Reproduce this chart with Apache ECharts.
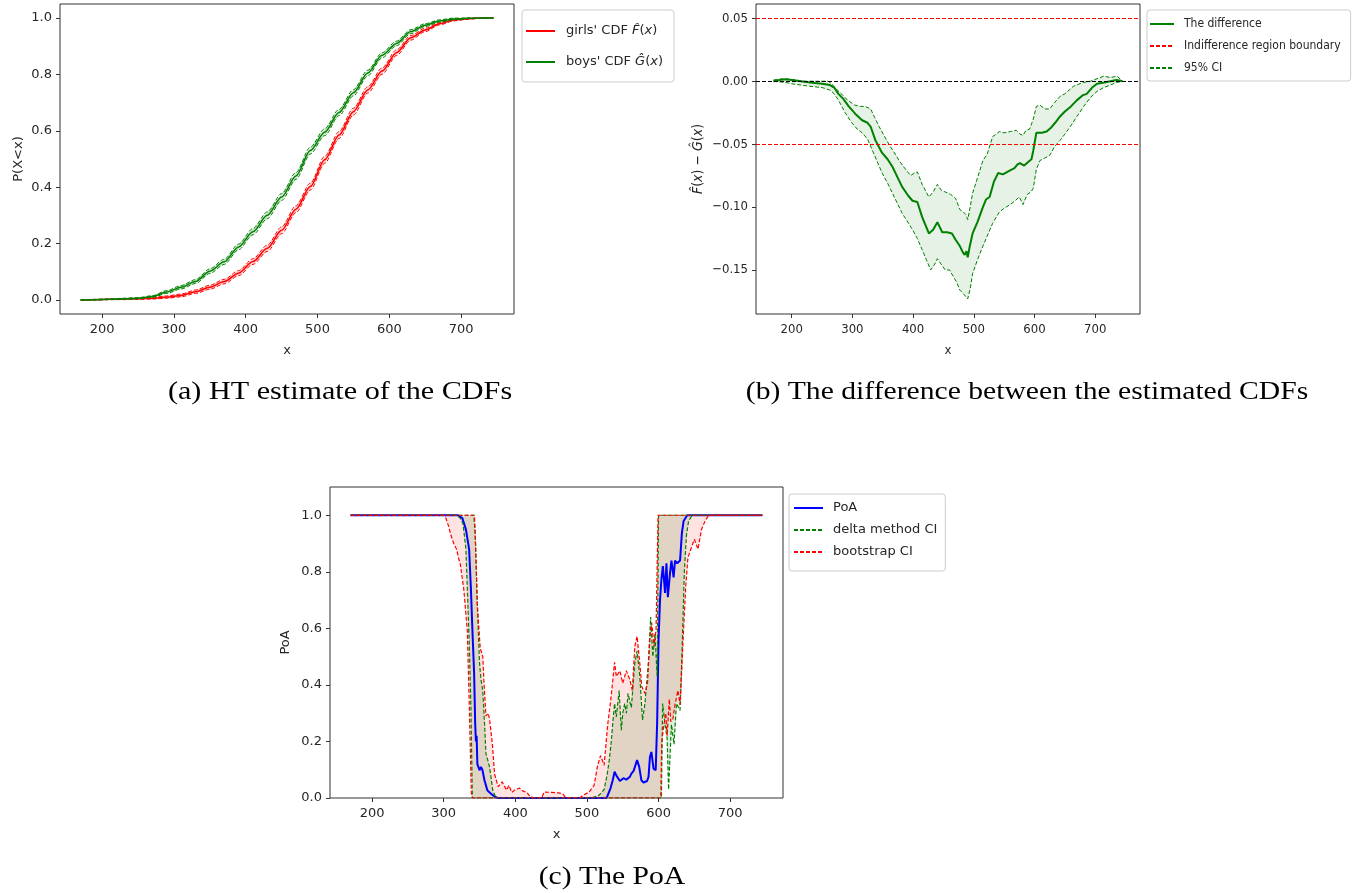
<!DOCTYPE html>
<html>
<head>
<meta charset="utf-8">
<script src="https://cdn.jsdelivr.net/npm/echarts@6/dist/echarts.min.js"></script>
<style>
  html, body { margin: 0; padding: 0; background: #fff; }
  #chart { width: 1367px; height: 893px; }
</style>
</head>
<body>
<div id="chart"></div>
<script>
// ---------- (a) HT estimates of the two CDFs ----------
const cdfX     = [170,190,210,230,250,270,290,310,330,350,370,390,410,430,450,470,490,510,530,550,570,590,610,630,650,670,690,710,730,745];
const girlsCdf = [0,0.001,0.002,0.003,0.004,0.006,0.010,0.016,0.029,0.045,0.065,0.095,0.136,0.183,0.247,0.322,0.402,0.497,0.585,0.668,0.745,0.812,0.877,0.930,0.958,0.980,0.993,0.998,1.0,1.0];
const girlsLo  = [0,0,0.001,0.001,0.002,0.003,0.006,0.011,0.023,0.038,0.057,0.086,0.126,0.172,0.235,0.310,0.390,0.485,0.573,0.656,0.734,0.801,0.867,0.922,0.952,0.976,0.990,0.996,0.999,1.0];
const girlsHi  = [0,0.002,0.003,0.005,0.006,0.009,0.014,0.021,0.035,0.052,0.073,0.104,0.146,0.194,0.259,0.334,0.414,0.509,0.597,0.680,0.756,0.823,0.887,0.938,0.964,0.984,0.996,1.0,1.0,1.0];
const boysCdf  = [0,0.001,0.002,0.004,0.006,0.012,0.028,0.045,0.065,0.102,0.135,0.188,0.242,0.300,0.365,0.440,0.530,0.595,0.665,0.735,0.805,0.868,0.910,0.952,0.975,0.990,0.997,0.999,1.0,1.0];
const boysLo   = [0,0,0.001,0.002,0.004,0.009,0.023,0.039,0.058,0.094,0.126,0.178,0.231,0.288,0.353,0.428,0.518,0.583,0.654,0.724,0.795,0.859,0.902,0.945,0.970,0.986,0.994,0.998,0.999,1.0];
const boysHi   = [0,0.002,0.003,0.006,0.008,0.015,0.033,0.051,0.072,0.110,0.144,0.198,0.253,0.312,0.377,0.452,0.542,0.607,0.676,0.746,0.815,0.877,0.918,0.959,0.980,0.994,1.0,1.0,1.0,1.0];

// ---------- (b) difference of the CDFs with its 95% CI ----------
const diffMain = [[170,0.000],[180,0.001],[190,0.0015],[200,0.001],[215,0.000],[230,-0.001],[250,-0.002],[263,-0.003],[270,-0.005],[277,-0.010],[285,-0.014],[294,-0.020],[305,-0.026],[316,-0.031],[325,-0.033],[330,-0.036],[338,-0.047],[349,-0.057],[358,-0.062],[366,-0.068],[375,-0.077],[382,-0.084],[392,-0.091],[399,-0.095],[407,-0.096],[415,-0.108],[426,-0.121],[433,-0.118],[440,-0.112],[448,-0.120],[456,-0.120],[464,-0.121],[470,-0.126],[477,-0.131],[482,-0.136],[485,-0.138],[488,-0.135],[490,-0.140],[493,-0.132],[498,-0.121],[506,-0.112],[515,-0.100],[520,-0.094],[526,-0.092],[533,-0.080],[540,-0.073],[548,-0.074],[559,-0.071],[567,-0.069],[572,-0.066],[576,-0.065],[583,-0.067],[590,-0.064],[595,-0.062],[598,-0.055],[603,-0.041],[612,-0.041],[620,-0.040],[627,-0.037],[634,-0.033],[642,-0.028],[650,-0.024],[660,-0.020],[670,-0.015],[680,-0.011],[686,-0.010],[695,-0.005],[703,-0.002],[715,-0.001],[725,0.000],[735,0.001],[745,0.000]];
const diffUpper = [[170,0.001],[185,0.002],[200,0.0015],[220,0.000],[245,0.000],[260,0.000],[266,-0.002],[275,-0.007],[282,-0.010],[292,-0.015],[304,-0.019],[313,-0.020],[321,-0.020],[330,-0.022],[337,-0.029],[344,-0.036],[352,-0.043],[360,-0.050],[368,-0.056],[377,-0.063],[386,-0.069],[396,-0.075],[402,-0.073],[407,-0.072],[415,-0.082],[426,-0.092],[433,-0.088],[440,-0.082],[447,-0.087],[453,-0.088],[462,-0.090],[470,-0.093],[477,-0.102],[483,-0.104],[487,-0.106],[490,-0.110],[494,-0.100],[498,-0.089],[506,-0.077],[515,-0.063],[522,-0.058],[531,-0.044],[537,-0.042],[542,-0.040],[550,-0.041],[560,-0.040],[570,-0.039],[576,-0.042],[581,-0.043],[586,-0.039],[592,-0.038],[598,-0.030],[603,-0.020],[609,-0.019],[617,-0.022],[625,-0.022],[633,-0.017],[642,-0.012],[650,-0.010],[664,-0.004],[680,-0.001],[692,0.000],[703,0.002],[714,0.004],[725,0.003],[736,0.004],[745,0.000]];
const diffLower = [[170,0.000],[190,-0.001],[200,-0.002],[215,-0.003],[230,-0.004],[250,-0.005],[263,-0.007],[270,-0.010],[277,-0.015],[288,-0.025],[299,-0.033],[308,-0.038],[316,-0.041],[325,-0.046],[333,-0.055],[341,-0.064],[349,-0.073],[358,-0.081],[366,-0.089],[374,-0.097],[382,-0.105],[390,-0.111],[399,-0.118],[407,-0.125],[415,-0.134],[422,-0.142],[429,-0.150],[435,-0.146],[440,-0.141],[447,-0.146],[453,-0.150],[460,-0.150],[466,-0.155],[472,-0.160],[477,-0.166],[483,-0.169],[490,-0.173],[494,-0.165],[498,-0.153],[506,-0.142],[515,-0.131],[523,-0.122],[531,-0.113],[537,-0.108],[542,-0.104],[550,-0.101],[560,-0.098],[568,-0.095],[575,-0.092],[581,-0.098],[588,-0.090],[594,-0.088],[598,-0.085],[603,-0.070],[609,-0.063],[617,-0.061],[625,-0.059],[633,-0.052],[642,-0.047],[650,-0.042],[659,-0.036],[670,-0.028],[681,-0.020],[692,-0.013],[703,-0.008],[714,-0.005],[725,-0.003],[735,-0.001],[745,0.000]];
const indifferenceBounds = [-0.05, 0.05];
const zeroLevel = 0;

// ---------- (c) probability of agreement with two CIs ----------
const poa = [[170,1],[320,1],[326,0.99],[331,0.95],[335.5,0.88],[338,0.74],[340,0.60],[342.5,0.44],[344,0.26],[345,0.20],[346,0.22],[347,0.12],[350,0.098],[352,0.11],[354,0.10],[357,0.062],[361,0.027],[366,0.015],[371,0.005],[376,0],[527,0],[529,0.009],[533,0.035],[536,0.063],[538.6,0.093],[541,0.08],[543,0.075],[546,0.06],[548,0.063],[551,0.07],[553,0.075],[555,0.065],[557,0.069],[560,0.075],[562,0.086],[565,0.095],[567,0.11],[570,0.134],[573,0.11],[576,0.063],[579,0.055],[581,0.051],[584,0.06],[586,0.075],[588,0.146],[590,0.163],[593,0.104],[596,0.098],[598,0.264],[600,0.56],[602,0.70],[604,0.773],[606,0.82],[608,0.76],[609,0.725],[611,0.83],[613,0.71],[616,0.796],[618,0.84],[621,0.78],[623,0.84],[626,0.83],[630,0.84],[632.6,0.938],[635,0.98],[640,1.0],[745,1.0]];
const deltaLower = [[170,1],[318,1],[323,0.99],[327,0.97],[331,0.88],[333,0.74],[335.5,0.56],[338,0.32],[340,0],[604,0],[605.7,0.334],[609,0.26],[612,0.21],[614,0.03],[615,0.09],[618,0.26],[621.6,0.19],[625,0.334],[630,0.31],[632.6,0.50],[636,0.80],[639,0.93],[642,0.98],[647,1.0],[745,1.0]];
const deltaUpper = [[170,1],[342,1],[344,0.94],[345,0.855],[347,0.68],[350,0.48],[352,0.42],[354.6,0.38],[357,0.264],[359,0.157],[362,0.13],[364,0.11],[366,0.075],[368.5,0.028],[373,0],[505,0],[512,0.005],[517,0.01],[524,0.03],[528,0.08],[531,0.13],[534,0.2],[536,0.264],[538.6,0.334],[541,0.287],[545,0.38],[548,0.24],[550,0.30],[552.7,0.334],[555,0.30],[557.4,0.37],[560,0.34],[562,0.32],[566.8,0.476],[570,0.52],[573.8,0.43],[577.6,0.276],[581,0.334],[585.7,0.476],[589,0.64],[592,0.50],[595,0.58],[598,0.43],[600,1.0],[745,1.0]];
const bootLower = [[170,1],[300,1],[303,0.99],[307,0.96],[310,0.93],[314,0.90],[318,0.88],[321,0.846],[323,0.83],[328,0.74],[333,0.59],[336,0.30],[338.5,0.02],[340,0],[603,0],[604.5,0.2],[607,0.25],[610,0.3],[612,0.22],[615,0.35],[617,0.27],[620,0.28],[623,0.33],[627,0.38],[630,0.33],[632,0.33],[635,0.60],[638,0.75],[641,0.85],[645,0.88],[650,0.915],[655,0.88],[660,0.95],[665,0.98],[670,1.0],[745,1.0]];
const bootUpper = [[170,1],[343,1],[345,0.855],[347,0.68],[351,0.53],[354.6,0.50],[356,0.42],[359,0.29],[362,0.30],[364,0.28],[368,0.19],[371,0.085],[376,0.04],[381.5,0.057],[388,0.028],[391,0.045],[395,0.02],[400,0.03],[406,0.035],[410,0.025],[416,0.02],[419,0.01],[425,0],[437,0],[440,0.021],[450,0.02],[460,0.018],[466,0.015],[470,0.003],[475,0],[490,0],[494,0.009],[503,0.021],[510,0.045],[515,0.116],[519,0.15],[524,0.116],[529,0.26],[533.6,0.354],[538.6,0.48],[541,0.43],[546,0.45],[550,0.406],[555,0.45],[560,0.418],[563.4,0.38],[566.8,0.536],[570,0.572],[573.8,0.476],[576.6,0.394],[581,0.37],[584.6,0.406],[588,0.572],[590.4,0.62],[593.7,0.536],[596.5,0.596],[599.3,1.0],[745,1.0]];

// ---------- tick labels ----------
const xTicks = [200, 300, 400, 500, 600, 700];
const cdfTicks = [0, 0.2, 0.4, 0.6, 0.8, 1.0];
const diffTicks = [-0.15, -0.10, -0.05, 0, 0.05];
const poaTicks = [0, 0.2, 0.4, 0.6, 0.8, 1.0];

// ---------- styling helpers ----------
const SANS = "'DejaVu Sans', sans-serif";
const COND = "'DejaVu Sans Condensed', 'Liberation Sans Narrow', 'DejaVu Sans', sans-serif";
const SERIF = "'Liberation Serif', 'DejaVu Serif', serif";
const INK = '#262626';
const SPINE = '#333';
const RED = '#ff0000', GREEN = '#008000', BLUE = '#0000ff';
const DASH = [4, 2];

const zip = (xs, ys) => xs.map((x, i) => [x, ys[i]]);

function xAxisFor(gridIndex, font) {
  return {
    type: 'value', gridIndex, min: 141.25, max: 773.75,
    name: 'x', nameLocation: 'middle', nameGap: 30,
    nameTextStyle: { fontSize: 13, color: INK, fontFamily: font },
    axisLine: { show: false, onZero: false }, splitLine: { show: false },
    axisTick: { show: true, inside: false, length: 4, customValues: xTicks, lineStyle: { color: SPINE } },
    axisLabel: { customValues: xTicks, fontSize: 13, color: INK, margin: 9, fontFamily: font }
  };
}

function yAxisFor(gridIndex, min, max, ticks, fmt, name, gap, font, nameSize, rich) {
  return {
    type: 'value', gridIndex, min, max,
    name, nameLocation: 'middle', nameGap: gap,
    nameTextStyle: { fontSize: nameSize, color: INK, fontFamily: font, rich: rich || {} },
    axisLine: { show: false, onZero: false }, splitLine: { show: false },
    axisTick: { show: true, inside: false, length: 4, customValues: ticks, lineStyle: { color: SPINE } },
    axisLabel: { customValues: ticks, fontSize: 13, color: INK, margin: 8, fontFamily: font, formatter: fmt }
  };
}

function line(name, data, axis, color, width, dashed, extra) {
  return Object.assign({
    type: 'line', name, data, xAxisIndex: axis, yAxisIndex: axis,
    symbol: 'none', silent: true, z: 3,
    itemStyle: { color },
    lineStyle: { color, width, type: dashed ? DASH : 'solid' }
  }, extra || {});
}

// shaded region between an upper and a lower curve
function band(upper, lower, axis, fill) {
  return {
    type: 'custom', xAxisIndex: axis, yAxisIndex: axis, silent: true, z: 1,
    data: [upper[0]],
    renderItem: (params, api) => {
      const pts = upper.map(p => api.coord(p))
        .concat(lower.slice().reverse().map(p => api.coord(p)));
      return { type: 'polygon', shape: { points: pts }, style: { fill } };
    }
  };
}

const GIRLS = "girls' CDF", BOYS = "boys' CDF";
const smoothA = { smooth: 0.3, smoothMonotone: 'x' };

const fmt1 = v => v.toFixed(1);
const fmtDiff = v => (v < -1e-9 ? '\u2212' : '') + Math.abs(v).toFixed(2);

// legend keys show only the line (no marker)
const legendBase = {
  orient: 'vertical', backgroundColor: 'rgba(255,255,255,0.8)',
  borderColor: '#cccccc', borderWidth: 1, borderRadius: 3,
  selectedMode: false, align: 'left',
  itemStyle: { opacity: 0 }
};

const chart = echarts.init(document.getElementById('chart'), null, { renderer: 'canvas' });

chart.setOption({
  animation: false,
  backgroundColor: '#ffffff',
  grid: [
    { left: 60, top: 4, width: 454, height: 310, show: true, borderColor: SPINE, borderWidth: 1 },
    { left: 756, top: 4, width: 384, height: 310, show: true, borderColor: SPINE, borderWidth: 1 },
    { left: 330, top: 487, width: 453, height: 311, show: true, borderColor: SPINE, borderWidth: 1 }
  ],
  xAxis: [xAxisFor(0, SANS), xAxisFor(1, COND), xAxisFor(2, SANS)],
  yAxis: [
    yAxisFor(0, -0.05, 1.05, cdfTicks, fmt1, 'P(X<x)', 35, SANS, 13),
    yAxisFor(1, -0.185, 0.0614, diffTicks, fmtDiff,
      '{i|F\u0302}({i|x}) \u2212 {i|G\u0302}({i|x})', 51, COND, 14,
      { i: { fontStyle: 'italic', fontSize: 14, color: INK, fontFamily: COND } }),
    yAxisFor(2, 0, 1.1, poaTicks, fmt1, 'PoA', 38, SANS, 13)
  ],
  legend: [
    Object.assign({}, legendBase, {
      left: 522, top: 10, padding: [12, 11, 11, 3], itemGap: 13,
      itemWidth: 29, itemHeight: 12,
      data: [GIRLS, BOYS],
      formatter: n => n === GIRLS ? "girls' CDF {m|F\u0302}({m|x})" : "boys' CDF {m|G\u0302}({m|x})",
      textStyle: { fontSize: 13, color: INK, fontFamily: SANS, lineHeight: 18, padding: [0, 0, 0, 6],
        rich: { m: { fontStyle: 'italic', fontSize: 13, color: INK, fontFamily: SANS, lineHeight: 18 } } }
    }),
    Object.assign({}, legendBase, {
      left: 1147, top: 10, padding: [6, 10, 5, 2], itemGap: 6,
      itemWidth: 24, itemHeight: 10,
      data: ['The difference', 'Indifference region boundary', '95% CI'],
      textStyle: { fontSize: 12, color: INK, fontFamily: COND, lineHeight: 16, padding: [0, 0, 0, 5] }
    }),
    Object.assign({}, legendBase, {
      left: 789, top: 494, padding: [6, 8, 11, 4], itemGap: 6,
      itemWidth: 29, itemHeight: 10,
      data: ['PoA', 'delta method CI', 'bootstrap CI'],
      textStyle: { fontSize: 13, color: INK, fontFamily: SANS, lineHeight: 16, padding: [0, 0, 0, 5] }
    })
  ],
  graphic: [
    { type: 'text', x: 340, y: 392, scaleX: 1.16, silent: true,
      style: { text: '(a) HT estimate of the CDFs', font: '26px ' + SERIF, fill: '#000',
        textAlign: 'center', textVerticalAlign: 'middle', align: 'center', verticalAlign: 'middle' } },
    { type: 'text', x: 1027, y: 392, scaleX: 1.14, silent: true,
      style: { text: '(b) The difference between the estimated CDFs', font: '26px ' + SERIF, fill: '#000',
        textAlign: 'center', textVerticalAlign: 'middle', align: 'center', verticalAlign: 'middle' } },
    { type: 'text', x: 612, y: 877, scaleX: 1.14, silent: true,
      style: { text: '(c) The PoA', font: '26px ' + SERIF, fill: '#000',
        textAlign: 'center', textVerticalAlign: 'middle', align: 'center', verticalAlign: 'middle' } }
  ],
  series: [
    // (a)
    band(zip(cdfX, girlsHi), zip(cdfX, girlsLo), 0, 'rgba(255,0,0,0.18)'),
    band(zip(cdfX, boysHi), zip(cdfX, boysLo), 0, 'rgba(0,128,0,0.18)'),
    line('girlsLo', zip(cdfX, girlsLo), 0, RED, 1, true, smoothA),
    line('girlsHi', zip(cdfX, girlsHi), 0, RED, 1, true, smoothA),
    line(GIRLS, zip(cdfX, girlsCdf), 0, RED, 1.5, false, smoothA),
    line('boysLo', zip(cdfX, boysLo), 0, GREEN, 1, true, smoothA),
    line('boysHi', zip(cdfX, boysHi), 0, GREEN, 1, true, smoothA),
    line(BOYS, zip(cdfX, boysCdf), 0, GREEN, 1.5, false, smoothA),

    // (b)
    band(diffUpper, diffLower, 1, 'rgba(0,128,0,0.10)'),
    line('zero', [], 1, '#000', 1, true, {
      markLine: { silent: true, symbol: 'none', label: { show: false },
        lineStyle: { color: '#000', type: DASH, width: 1 }, data: [{ yAxis: zeroLevel }] }
    }),
    line('Indifference region boundary', [], 1, RED, 1, true, {
      markLine: { silent: true, symbol: 'none', label: { show: false },
        lineStyle: { color: RED, type: DASH, width: 1 },
        data: indifferenceBounds.map(v => ({ yAxis: v })) }
    }),
    line('95% CI', diffUpper, 1, GREEN, 1, true),
    line('95% CI', diffLower, 1, GREEN, 1, true),
    line('The difference', diffMain, 1, GREEN, 2, false),

    // (c)
    band(deltaUpper, deltaLower, 2, 'rgba(0,128,0,0.13)'),
    band(bootUpper, bootLower, 2, 'rgba(255,0,0,0.11)'),
    line('PoA', poa, 2, BLUE, 2, false),
    line('delta method CI', deltaUpper, 2, GREEN, 1.2, true),
    line('delta method CI', deltaLower, 2, GREEN, 1.2, true),
    line('bootstrap CI', bootUpper, 2, RED, 1.2, true),
    line('bootstrap CI', bootLower, 2, RED, 1.2, true)
  ]
});
</script>
</body>
</html>
